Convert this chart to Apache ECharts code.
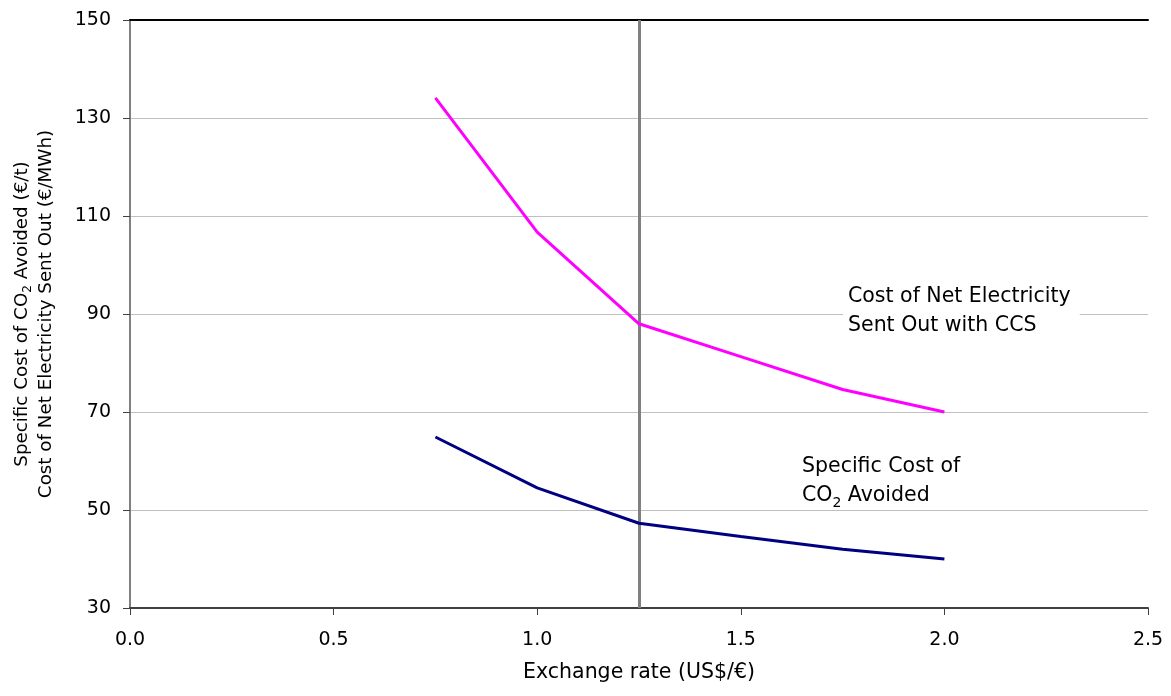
<!DOCTYPE html>
<html>
<head>
<meta charset="utf-8">
<script src="https://cdn.jsdelivr.net/npm/echarts@6/dist/echarts.min.js"></script>
<style>html,body{margin:0;padding:0;background:#fff}#c{width:1171px;height:696px}</style>
</head>
<body>
<div id="c"></div>
<script>
var exchangeRates = [0.75, 1.0, 1.25, 1.5, 1.75, 2.0];
var electricityCost = [134.1, 106.7, 88.0, 81.3, 74.6, 70.0];
var co2AvoidedCost = [64.9, 54.5, 47.3, 44.6, 42.0, 40.0];
var referenceRate = 1.25;
var xTicks = [0, 0.5, 1.0, 1.5, 2.0, 2.5];
var yTicks = [30, 50, 70, 90, 110, 130, 150];

var FONT = 'DejaVu Sans';
function pairs(xs, ys) { return xs.map(function (x, i) { return [x, ys[i]]; }); }

var chart = echarts.init(document.getElementById('c'));
chart.setOption({
  animation: false,
  backgroundColor: '#fff',
  textStyle: { fontFamily: FONT },
  grid: { left: 130, right: 23, top: 20, bottom: 88, containLabel: false, outerBoundsMode: 'none' },
  xAxis: [{
    type: 'value', min: xTicks[0], max: xTicks[xTicks.length - 1], interval: 0.5,
    name: 'Exchange rate (US$/€)', nameLocation: 'middle', nameGap: 54,
    nameTextStyle: { fontFamily: FONT, fontSize: 20.5, color: '#000' },
    axisLine: { lineStyle: { color: '#404040', width: 2 } },
    axisTick: { show: true, length: 7, lineStyle: { color: '#404040' } },
    axisLabel: { fontFamily: FONT, fontSize: 19, color: '#000', margin: 23,
      formatter: function (v) { return v.toFixed(1); } },
    splitLine: { show: false }
  }, {
    type: 'value', min: xTicks[0], max: xTicks[xTicks.length - 1], position: 'top',
    axisLine: { show: true, lineStyle: { color: '#000', width: 2 } },
    axisTick: { show: false }, axisLabel: { show: false }, splitLine: { show: false }
  }],
  yAxis: [{
    type: 'value', min: yTicks[0], max: yTicks[yTicks.length - 1], interval: 20,
    name: '{a|Specific Cost of CO}{s|2}{a| Avoided (€/t)}\n{a|Cost of Net Electricity Sent Out (€/MWh)}',
    nameLocation: 'middle', nameGap: 72, nameRotate: 90,
    nameTextStyle: {
      rich: {
        a: { fontFamily: FONT, fontSize: 18.3, color: '#000', lineHeight: 24 },
        s: { fontFamily: FONT, fontSize: 12, color: '#000', lineHeight: 24, verticalAlign: 'bottom', padding: [7, 0, 0, 0] }
      }
    },
    axisLine: { show: true, lineStyle: { color: '#404040', width: 2 } },
    axisTick: { show: true, length: 7, lineStyle: { color: '#404040' } },
    axisLabel: { fontFamily: FONT, fontSize: 19, color: '#000', margin: 19 },
    splitLine: { show: true, lineStyle: { color: '#c0c0c0', width: 1 } }
  }, {
    type: 'value', min: yTicks[0], max: yTicks[yTicks.length - 1], position: 'right',
    axisLine: { show: true, lineStyle: { color: '#808080', width: 2 } },
    axisTick: { show: false }, axisLabel: { show: false }, splitLine: { show: false }
  }],
  series: [{
    type: 'line', name: 'Cost of Net Electricity Sent Out with CCS',
    data: pairs(exchangeRates, electricityCost),
    showSymbol: false, symbol: 'none',
    lineStyle: { color: '#ff00ff', width: 3 },
    z: 5,
    markLine: {
      silent: true, symbol: 'none', label: { show: false },
      lineStyle: { color: '#808080', width: 3, type: 'solid' },
      data: [{ xAxis: referenceRate }]
    }
  }, {
    type: 'line', name: 'Specific Cost of CO2 Avoided',
    data: pairs(exchangeRates, co2AvoidedCost),
    showSymbol: false, symbol: 'none',
    lineStyle: { color: '#000080', width: 3 },
    z: 5
  }],
  graphic: [{
    type: 'text', left: 843, top: 282, z: 10,
    style: {
      text: 'Cost of Net Electricity\nSent Out with CCS',
      font: '20.5px "DejaVu Sans"', fill: '#000', lineHeight: 29,
      backgroundColor: '#fff', padding: [0, 9, 0, 5]
    }
  }, {
    type: 'text', left: 797, top: 452, z: 10,
    style: {
      text: '{a|Specific Cost of}\n{a|CO}{s|2}{a| Avoided}',
      rich: {
        a: { fontFamily: FONT, fontSize: 20.5, fill: '#000', lineHeight: 29 },
        s: { fontFamily: FONT, fontSize: 14, fill: '#000', lineHeight: 29, verticalAlign: 'bottom', padding: [8, 0, 0, 0] }
      },
      backgroundColor: '#fff', padding: [0, 9, 0, 5]
    }
  }]
});
</script>
</body>
</html>
